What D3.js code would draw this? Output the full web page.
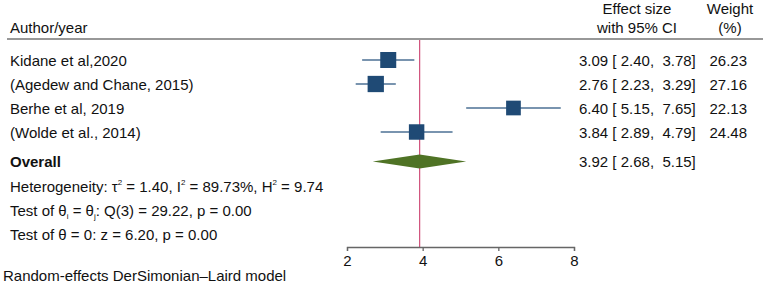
<!DOCTYPE html>
<html>
<head>
<meta charset="utf-8">
<script src="https://cdn.jsdelivr.net/npm/d3@7"></script>
<style>
body { margin: 0; background: #fff; }
svg text { font-family: "Liberation Sans", Arial, sans-serif; fill: #111; }
</style>
</head>
<body>
<div id="plot"></div>
<script>
// study data
let studies = ["Kidane et al,2020", "(Agedew and Chane, 2015)", "Berhe et al, 2019", "(Wolde et al., 2014)"];
let effect = [3.09, 2.76, 6.40, 3.84];
let lower = [2.40, 2.23, 5.15, 2.89];
let upper = [3.78, 3.29, 7.65, 4.79];
let weight = [26.23, 27.16, 22.13, 24.48];
let overall = {est: 3.92, lo: 2.68, hi: 5.15};
let xTicks = [2, 4, 6, 8];

let width = 763, height = 295;
let fs = "15px";

let svg = d3.select("#plot")
	.append("svg")
		.attr("width", width)
		.attr("height", height);

let x = d3.scaleLinear()
	.domain([2, 8])
	.range([347, 574]);

let y = d3.scaleLinear()
	.domain([0, 3])
	.range([60, 132]);

let fmt = d3.format(".2f");

// header
svg.append("text").attr("x", 10).attr("y", 33).style("font-size", fs).text("Author/year");
svg.append("text").attr("x", 637).attr("y", 14).attr("text-anchor", "middle").style("font-size", fs).text("Effect size");
svg.append("text").attr("x", 637).attr("y", 33).attr("text-anchor", "middle").style("font-size", fs).text("with 95% CI");
svg.append("text").attr("x", 730).attr("y", 14).attr("text-anchor", "middle").style("font-size", fs).text("Weight");
svg.append("text").attr("x", 730).attr("y", 33).attr("text-anchor", "middle").style("font-size", fs).text("(%)");
svg.append("line")
	.attr("x1", 7).attr("x2", 763)
	.attr("y1", 39).attr("y2", 39)
	.attr("stroke", "#333").attr("stroke-width", 1.2);

// reference line at overall estimate
svg.append("line")
	.attr("x1", x(overall.est)).attr("x2", x(overall.est))
	.attr("y1", 40).attr("y2", 247)
	.attr("stroke", "#d0507a").attr("stroke-width", 1.2);

// study labels
svg.selectAll("studyLabels")
	.data(studies)
	.enter()
	.append("text")
		.attr("x", 10)
		.attr("y", (d, i) => y(i) + 5.5)
		.style("font-size", fs)
		.text(d => d);

// CI lines
svg.selectAll("ciLines")
	.data(studies)
	.enter()
	.append("line")
		.attr("x1", (d, i) => x(lower[i]))
		.attr("x2", (d, i) => x(upper[i]))
		.attr("y1", (d, i) => y(i))
		.attr("y2", (d, i) => y(i))
		.attr("stroke", "#4c7194")
		.attr("stroke-width", 1.3);

// weight boxes
let boxSize = d3.scaleSqrt().domain([0, 26.23]).range([0, 16]);
svg.selectAll("boxes")
	.data(studies)
	.enter()
	.append("rect")
		.attr("x", (d, i) => x(effect[i]) - boxSize(weight[i]) / 2)
		.attr("y", (d, i) => y(i) - boxSize(weight[i]) / 2)
		.attr("width", (d, i) => boxSize(weight[i]))
		.attr("height", (d, i) => boxSize(weight[i]))
		.style("fill", "#1f4a75");

// effect size text + weights
svg.selectAll("esText")
	.data(studies)
	.enter()
	.append("text")
		.attr("x", 579)
		.attr("y", (d, i) => y(i) + 5.5)
		.style("white-space", "pre")
		.style("font-size", fs)
		.text((d, i) => fmt(effect[i]) + " [ " + fmt(lower[i]) + ",  " + fmt(upper[i]) + "]");

svg.selectAll("wText")
	.data(weight)
	.enter()
	.append("text")
		.attr("x", 747)
		.attr("y", (d, i) => y(i) + 5.5)
		.attr("text-anchor", "end")
		.style("font-size", fs)
		.text(d => fmt(d));

// overall
let oy = 161.5;
svg.append("text").attr("x", 10).attr("y", oy + 5.5).style("font-size", fs).style("font-weight", "bold").text("Overall");
svg.append("path")
	.attr("d", "M" + x(overall.lo) + "," + oy + "L" + x(overall.est) + "," + (oy - 7) +
		"L" + x(overall.hi) + "," + oy + "L" + x(overall.est) + "," + (oy + 7) + "Z")
	.style("fill", "#4f7325");
svg.append("text")
	.attr("x", 579).attr("y", oy + 5.5)
	.style("white-space", "pre")
	.style("font-size", fs)
	.text(fmt(overall.est) + " [ " + fmt(overall.lo) + ",  " + fmt(overall.hi) + "]");

// heterogeneity lines
let het = svg.append("text").attr("x", 10).attr("y", 192).style("font-size", fs);
het.append("tspan").text("Heterogeneity: τ");
het.append("tspan").attr("dy", -7).style("font-size", "8px").text("2");
het.append("tspan").attr("dy", 7).text(" = 1.40, I");
het.append("tspan").attr("dy", -7).style("font-size", "8px").text("2");
het.append("tspan").attr("dy", 7).text(" = 89.73%, H");
het.append("tspan").attr("dy", -7).style("font-size", "8px").text("2");
het.append("tspan").attr("dy", 7).text(" = 9.74");

let t1 = svg.append("text").attr("x", 10).attr("y", 216).style("font-size", fs);
t1.append("tspan").text("Test of θ");
t1.append("tspan").attr("dy", 3).style("font-size", "8px").text("i");
t1.append("tspan").attr("dy", -3).text(" = θ");
t1.append("tspan").attr("dy", 3).style("font-size", "8px").text("j");
t1.append("tspan").attr("dy", -3).text(": Q(3) = 29.22, p = 0.00");

svg.append("text").attr("x", 10).attr("y", 240).style("font-size", fs).text("Test of θ = 0: z = 6.20, p = 0.00");

// x axis
svg.append("g")
	.attr("transform", "translate(0,247)")
	.call(d3.axisBottom(x).tickValues(xTicks).tickSize(4).tickPadding(4).tickFormat(d3.format("d")))
	.call(g => g.select(".domain").attr("stroke", "#666").attr("stroke-width", 1.3))
	.call(g => g.selectAll(".tick line").attr("stroke", "#666").attr("stroke-width", 1.3))
	.call(g => g.selectAll(".tick text").style("font-size", fs).attr("fill", "#111"));

svg.append("text").attr("x", 3).attr("y", 280.5).style("font-size", fs).text("Random-effects DerSimonian–Laird model");
</script>
</body>
</html>
